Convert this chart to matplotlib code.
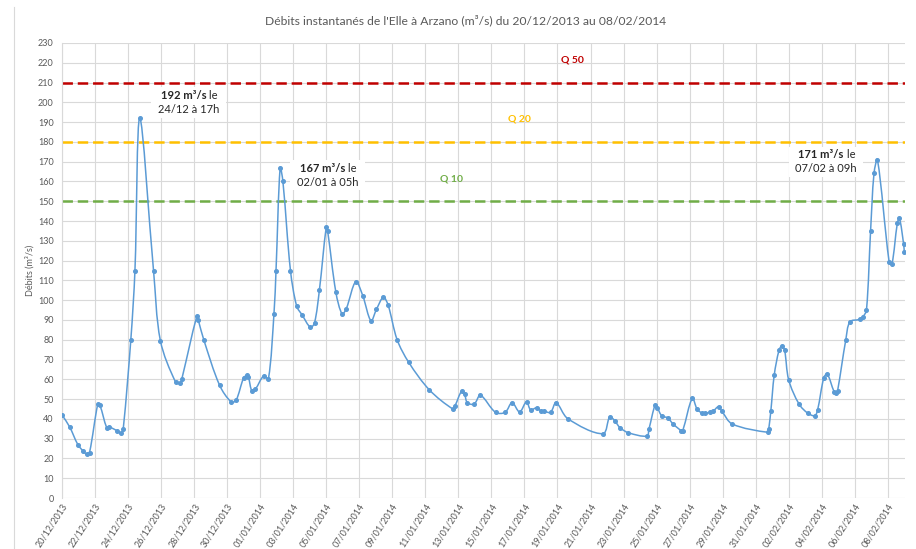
import numpy as np
import pandas as pd
import matplotlib
matplotlib.use("Agg")
import matplotlib.pyplot as plt
import matplotlib.dates as mdates
from matplotlib.path import Path
from matplotlib.patches import PathPatch
from matplotlib.lines import Line2D

# Instantaneous discharge of the Elle at Arzano (m3/s)
times = [
    "2013-12-20 00:00", "2013-12-20 11:00", "2013-12-20 23:00", "2013-12-21 06:00",
    "2013-12-21 12:00", "2013-12-21 16:00", "2013-12-22 04:00", "2013-12-22 07:00",
    "2013-12-22 17:00", "2013-12-22 20:00", "2013-12-23 08:00", "2013-12-23 14:00",
    "2013-12-23 17:00", "2013-12-24 04:00", "2013-12-24 10:00", "2013-12-24 17:00",
    "2013-12-25 13:00", "2013-12-25 23:00", "2013-12-26 21:00", "2013-12-27 04:00",
    "2013-12-27 06:00", "2013-12-28 04:00", "2013-12-28 06:00", "2013-12-28 14:00",
    "2013-12-29 13:00", "2013-12-30 06:00", "2013-12-30 13:00", "2013-12-31 00:00",
    "2013-12-31 05:00", "2013-12-31 07:00", "2013-12-31 12:00", "2013-12-31 17:00",
    "2014-01-01 05:00", "2014-01-01 12:00", "2014-01-01 20:00", "2014-01-01 23:00",
    "2014-01-02 05:00", "2014-01-02 09:00", "2014-01-02 20:00", "2014-01-03 05:00",
    "2014-01-03 13:00", "2014-01-04 01:00", "2014-01-04 07:00", "2014-01-04 14:00",
    "2014-01-05 00:00", "2014-01-05 02:00", "2014-01-05 14:00", "2014-01-05 23:00",
    "2014-01-06 05:00", "2014-01-06 19:00", "2014-01-07 05:00", "2014-01-07 17:00",
    "2014-01-08 01:00", "2014-01-08 11:00", "2014-01-08 18:00", "2014-01-09 07:00",
    "2014-01-10 00:00", "2014-01-11 06:00", "2014-01-12 16:00", "2014-01-12 19:00",
    "2014-01-13 05:00", "2014-01-13 09:00", "2014-01-13 13:00", "2014-01-13 23:00",
    "2014-01-14 08:00", "2014-01-15 06:00", "2014-01-15 20:00", "2014-01-16 06:00",
    "2014-01-16 17:00", "2014-01-17 03:00", "2014-01-17 09:00", "2014-01-17 18:00",
    "2014-01-18 00:00", "2014-01-18 05:00", "2014-01-18 14:00", "2014-01-18 22:00",
    "2014-01-19 15:00", "2014-01-21 18:00", "2014-01-22 04:00", "2014-01-22 11:00",
    "2014-01-22 19:00", "2014-01-23 07:00", "2014-01-24 10:00", "2014-01-24 13:00",
    "2014-01-24 22:00", "2014-01-25 01:00", "2014-01-25 08:00", "2014-01-25 16:00",
    "2014-01-26 00:00", "2014-01-26 12:00", "2014-01-26 14:00", "2014-01-27 04:00",
    "2014-01-27 11:00", "2014-01-27 18:00", "2014-01-27 23:00", "2014-01-28 06:00",
    "2014-01-28 10:00", "2014-01-28 18:00", "2014-01-28 23:00", "2014-01-29 14:00",
    "2014-01-31 18:00", "2014-01-31 19:00", "2014-01-31 22:00", "2014-02-01 03:00",
    "2014-02-01 10:00", "2014-02-01 14:00", "2014-02-01 18:00", "2014-02-02 00:00",
    "2014-02-02 15:00", "2014-02-03 04:00", "2014-02-03 14:00", "2014-02-03 18:00",
    "2014-02-04 03:00", "2014-02-04 08:00", "2014-02-04 18:00", "2014-02-04 21:00",
    "2014-02-04 23:00", "2014-02-05 11:00", "2014-02-05 17:00", "2014-02-06 07:00",
    "2014-02-06 12:00", "2014-02-06 17:00", "2014-02-06 23:00", "2014-02-07 04:00",
    "2014-02-07 09:00", "2014-02-08 02:00", "2014-02-08 06:00", "2014-02-08 14:00",
    "2014-02-08 17:00", "2014-02-08 23:00", "2014-02-09 00:00",
]
debits = [
    42, 36, 27, 24, 22, 23, 47.5, 47,
    35.5, 36, 34, 32.7, 35, 80, 115, 192,
    115, 79.5, 58.6, 58, 60, 92, 90, 80,
    57, 48.5, 49.4, 60.8, 62, 61, 54, 55,
    61.7, 60.3, 93, 115, 167, 160, 115, 97,
    92.5, 86.3, 88.6, 105, 137, 135, 104, 93,
    95.6, 109.4, 102.3, 89.6, 95.4, 101.5, 97.4, 80,
    68.5, 54.6, 45, 46.5, 54.2, 52.4, 48.2, 47.5,
    51.9, 43.3, 43.3, 48.2, 43.5, 48.7, 44.5, 45.7,
    44, 43.8, 43.3, 48.2, 40.1, 32.5, 41.1, 39.1,
    35.5, 33, 31.3, 34.9, 47.2, 45.7, 41.3, 40.6,
    37.4, 34, 34, 50.4, 44.8, 43, 43, 43.3,
    43.8, 46.2, 43.8, 37.4, 33.2, 34.9, 43.8, 62.2,
    74.8, 76.8, 74.8, 59.7, 47.5, 42.8, 41.6, 44.5,
    60.8, 62.7, 53.7, 52.9, 54.1, 80, 89.1, 90.3,
    91.7, 94.9, 135.1, 164.2, 171, 119.2, 118.1, 139.2,
    141.4, 128.3, 124.2,
]

# Return-period thresholds
seuils = {"Q 10": 150, "Q 20": 180, "Q 50": 210}
seuil_colors = {"Q 10": "#70AD47", "Q 20": "#FFC000", "Q 50": "#C00000"}
seuil_label_pos = {"Q 10": "2014-01-12 14:00", "Q 20": "2014-01-16 17:00", "Q 50": "2014-01-19 22:00"}
seuil_label_y = {"Q 10": 161.5, "Q 20": 191.5, "Q 50": 221.5}

# Peak annotations: (text position, value line, date line)
pics = [
    ("2013-12-27 16:00", 203.5, "192 m³/s", "24/12 à 17h"),
    ("2014-01-05 02:00", 166.8, "167 m³/s", "02/01 à 05h"),
    ("2014-02-04 06:00", 173.6, "171 m³/s", "07/02 à 09h"),
]

start = pd.Timestamp("2013-12-20")
end = pd.Timestamp("2014-02-09 01:00")
tick_dates = pd.date_range("2013-12-20", "2014-02-08", freq="2D")

plt.rcParams["font.family"] = ["Lato", "DejaVu Sans"]
plt.rcParams["lines.scale_dashes"] = False

GREY_TXT = "#595959"
GRID = "#D9D9D9"
BLUE = "#5B9BD5"

fig = plt.figure(figsize=(9.16, 5.49), dpi=100)
ax = fig.add_axes([62 / 916, 1 - 498 / 549, (905 - 62) / 916, (498 - 43) / 549])

t = pd.to_datetime(times)
x = mdates.date2num(t.to_pydatetime())
y = np.array(debits, dtype=float)

ax.set_xlim(mdates.date2num(start.to_pydatetime()), mdates.date2num(end.to_pydatetime()))
ax.set_ylim(0, 230)
ax.set_yticks(np.arange(0, 231, 10))
ax.set_xticks(mdates.date2num(tick_dates.to_pydatetime()))
ax.xaxis.set_major_formatter(mdates.DateFormatter("%d/%m/%Y"))

ax.grid(True, color=GRID, linewidth=0.8)
ax.set_axisbelow(True)
for s in ["top", "right", "bottom"]:
    ax.spines[s].set_visible(False)
ax.spines["left"].set_color(GRID)
ax.spines["left"].set_linewidth(0.8)
ax.tick_params(axis="both", length=0, colors=GREY_TXT, labelsize=6.5)
ax.tick_params(axis="y", pad=6)
ax.tick_params(axis="x", pad=3)
for lab in ax.get_xticklabels():
    lab.set_rotation(57)
    lab.set_ha("right")
    lab.set_va("top")
    lab.set_rotation_mode("anchor")

ax.set_ylabel("Débits (m³/s)", color=GREY_TXT, fontsize=6.5, labelpad=2.5)

# Threshold lines
for name, val in seuils.items():
    ax.axhline(val, color=seuil_colors[name], linewidth=1.8, dashes=(7.5, 3.5), zorder=2)
    ax.text(mdates.date2num(pd.Timestamp(seuil_label_pos[name]).to_pydatetime()),
            seuil_label_y[name], name, color=seuil_colors[name], fontsize=7.5,
            fontweight="bold", ha="center", va="center")

# Smoothed discharge curve (cubic Bezier through the measured points)
pts = ax.transData.transform(np.column_stack([x, y]))
n = len(pts)
verts = [pts[0]]
codes = [Path.MOVETO]
for i in range(n - 1):
    p0 = pts[i - 1] if i > 0 else pts[i]
    p1 = pts[i]
    p2 = pts[i + 1]
    p3 = pts[i + 2] if i + 2 < n else pts[i + 1]
    d = np.linalg.norm(p2 - p1)
    d01 = np.linalg.norm(p1 - p0)
    d23 = np.linalg.norm(p3 - p2)
    t1 = (p2 - p0) / (d01 + d) if d01 + d > 0 else np.zeros(2)
    t2 = (p3 - p1) / (d + d23) if d + d23 > 0 else np.zeros(2)
    c1 = p1 + t1 * d / 3
    c2 = p2 - t2 * d / 3
    verts += [c1, c2, p2]
    codes += [Path.CURVE4] * 3
verts = ax.transData.inverted().transform(np.array(verts))
curve = PathPatch(Path(verts, codes), facecolor="none", edgecolor=BLUE,
                  linewidth=1.1, zorder=3, capstyle="round", joinstyle="round")
ax.add_patch(curve)
ax.plot(x, y, linestyle="none", marker="o", markersize=2.6, color=BLUE, zorder=4)

# Peak labels
for pos, ypos, bold_txt, date_txt in pics:
    xp = mdates.date2num(pd.Timestamp(pos).to_pydatetime())
    ax.text(xp, ypos - 3.6, "                        \n ", fontsize=8, ha="center", va="center",
            linespacing=1.3, zorder=5,
            bbox=dict(boxstyle="square,pad=0.25", facecolor="white", edgecolor="none"))
    t1 = ax.text(xp - 0.3, ypos, bold_txt, fontsize=8, fontweight="bold",
                 color="#262626", ha="center", va="center", zorder=6)
    ax.annotate(" le", xy=(1, 0), xycoords=t1, fontsize=8, color="#262626",
                ha="left", va="bottom", zorder=6)
    ax.text(xp, ypos - 7.1, date_txt, fontsize=8, color="#262626",
            ha="center", va="center", zorder=6)

fig.text(466 / 916, 1 - 20 / 549,
         "Débits instantanés de l'Elle à Arzano (m³/s) du 20/12/2013 au 08/02/2014",
         ha="center", va="center", fontsize=8.7, color=GREY_TXT)

# Chart frame edge on the left
fig.add_artist(Line2D([14 / 916, 14 / 916], [0, 1 - 7 / 549], transform=fig.transFigure,
                      color=GRID, linewidth=0.8))

fig.savefig("out.png", dpi=100)
